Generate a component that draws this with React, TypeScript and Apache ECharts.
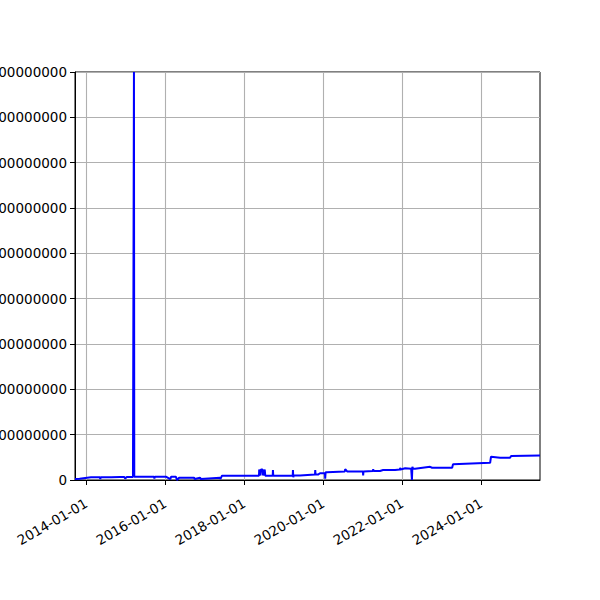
import React, { useEffect, useRef } from 'react'
import * as echarts from 'echarts'

// dates and values
const dates: string[] = [
  '2013-09-20', '2013-11-01', '2014-02-15', '2014-05-08', '2014-05-12', '2014-05-16', '2014-08-20',
  '2014-11-10', '2014-12-20', '2014-12-28', '2015-01-10', '2015-03-10', '2015-03-19', '2015-03-22',
  '2015-03-25', '2015-09-20', '2015-09-24', '2015-09-28', '2016-01-12', '2016-02-18', '2016-02-25',
  '2016-03-05', '2016-04-10', '2016-04-20', '2016-05-10', '2016-05-18', '2016-09-25', '2016-10-01',
  '2016-11-20', '2016-11-25', '2017-05-23', '2017-05-26', '2017-06-10', '2018-05-18', '2018-05-20',
  '2018-06-01', '2018-06-05', '2018-06-20', '2018-06-25', '2018-07-10', '2018-07-15', '2018-09-22',
  '2018-09-24', '2018-09-27', '2019-03-26', '2019-03-28', '2019-03-31', '2019-04-04', '2019-06-02',
  '2019-10-18', '2019-10-20', '2019-10-23', '2019-11-15', '2019-12-03', '2020-01-18', '2020-01-20',
  '2020-01-24', '2020-02-06', '2020-07-20', '2020-07-23', '2020-08-10', '2021-01-03', '2021-01-05',
  '2021-01-08', '2021-04-06', '2021-04-08', '2021-04-11', '2021-06-10', '2021-07-08', '2021-10-27',
  '2021-12-11', '2021-12-13', '2021-12-16', '2022-01-29', '2022-03-25', '2022-04-01', '2022-04-05',
  '2022-04-12', '2022-04-30', '2022-09-16', '2022-10-04', '2023-04-08', '2023-04-16', '2024-03-24',
  '2024-04-01', '2024-06-24', '2024-09-24', '2024-10-04', '2025-06-28',
]

const values: number[] = [
  2000000, 3000000, 6000000, 6000000, 2000000, 6000000, 6000000,
  6500000, 6500000, 3000000, 6500000, 6500000, 900000000, 7300000,
  7300000, 7000000, 3000000, 7000000, 7000000, 2000000, 7000000,
  7000000, 7000000, 0, 5000000, 5000000, 5000000, 2000000,
  5000000, 2000000, 5000000, 2000000, 9500000, 9500000, 23000000,
  10000000, 23000000, 23000000, 10000000, 23000000, 9500000, 9500000,
  22000000, 9500000, 10000000, 22000000, 6000000, 10000000, 10000000,
  12000000, 22000000, 12000000, 12000000, 15000000, 15000000, 3000000,
  17000000, 17000000, 19000000, 24000000, 19000000, 19000000, 10000000,
  19000000, 20000000, 24000000, 20000000, 20000000, 22000000, 22000000,
  23000000, 27000000, 23000000, 26000000, 25000000, 0, 29000000,
  25000000, 25000000, 29000000, 27000000, 27000000, 35000000, 38000000,
  51500000, 49000000, 49000000, 53000000, 54000000,
]

const xTicks: string[] = ['2014-01-01', '2016-01-01', '2018-01-01', '2020-01-01', '2022-01-01', '2024-01-01']

const yMax = 900000000
const yStep = 100000000

const pad = (n: number) => (n < 10 ? '0' + n : '' + n)

export default function App() {
  const chartRef = useRef<HTMLDivElement>(null)

  useEffect(() => {
    if (!chartRef.current) return
    const chart = echarts.init(chartRef.current, undefined, { renderer: 'svg' })
    const tickTimes = xTicks.map((d) => new Date(d + 'T00:00:00Z').getTime())
    const pts = dates.map((d, i) => [new Date(d + 'T00:00:00Z').getTime(), values[i]])

    const option: any = {
      animation: false,
      grid: {
        left: 75, right: 60, top: 72, bottom: 120,
        outerBoundsMode: 'none',
        containLabel: false,
        show: true, borderColor: '#000', borderWidth: 1, backgroundColor: 'transparent',
      },
      xAxis: {
        type: 'value',
        min: pts[0][0],
        max: pts[pts.length - 1][0],
        axisLine: { show: true, onZero: false, lineStyle: { color: '#000', width: 1 } },
        axisTick: { show: true, length: 5, customValues: tickTimes, lineStyle: { color: '#000' } },
        axisLabel: {
          customValues: tickTimes,
          rotate: 30,
          fontSize: 13.5,
          color: '#000',
          fontFamily: 'DejaVu Sans',
          margin: 22,
          formatter: (v: number) => {
            const d = new Date(v)
            return d.getUTCFullYear() + '-' + pad(d.getUTCMonth() + 1) + '-' + pad(d.getUTCDate())
          },
        },
        splitLine: { show: true, lineStyle: { color: '#b0b0b0', width: 1.1 } },
      },
      yAxis: {
        type: 'value',
        min: 0,
        max: yMax,
        interval: yStep,
        axisLine: { show: true, lineStyle: { color: '#000', width: 1 } },
        axisTick: { show: true, length: 5, lineStyle: { color: '#000' } },
        axisLabel: {
          fontSize: 13.5,
          color: '#000',
          fontFamily: 'DejaVu Sans',
          margin: 8,
          formatter: (v: number) => String(v),
        },
        splitLine: { show: true, lineStyle: { color: '#b0b0b0', width: 1.1 } },
      },
      series: [
        {
          type: 'line',
          data: pts,
          showSymbol: false,
          lineStyle: { color: '#0000ff', width: 2 },
          itemStyle: { color: '#0000ff' },
        },
      ],
    }

    chart.setOption(option)
    return () => {
      chart.dispose()
    }
  }, [])

  return (
    <div
      ref={chartRef}
      style={{ position: 'fixed', left: 0, top: 0, width: 600, height: 600, background: '#fff' }}
    />
  )
}
